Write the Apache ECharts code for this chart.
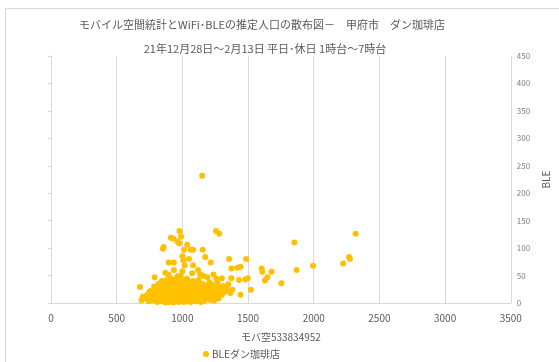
<!DOCTYPE html>
<html><head><meta charset="utf-8">
<script src="https://cdn.jsdelivr.net/npm/echarts@6/dist/echarts.min.js"></script>
<style>html,body{margin:0;padding:0;background:#fff}#c{width:559px;height:362px}</style>
</head><body><div id="c"></div>
<script>
const titleText = 'モバイル空間統計とWiFi･BLEの推定人口の散布図－　甲府市　ダン珈琲店';
const subTitleText = '21年12月28日～2月13日 平日･休日 1時台～7時台';
const xAxisName = 'モバ空533834952';
const yAxisName = 'BLE';
const seriesName = 'BLEダン珈琲店';
const xTicks = [0, 500, 1000, 1500, 2000, 2500, 3000, 3500];
const yTicks = [0, 50, 100, 150, 200, 250, 300, 350, 400, 450];

// [モバ空, BLE] — outlying / scattered points
const spreadPoints = [
  [1151,232],[1256,131],[1281,126],[978,131],[990,121],[913,119],[933,117],
  [963,112],[975,109],[858,102],[851,99],[1037,106],[1013,97],[1062,97],[1082,97],
  [1155,97],[1000,85],[1174,84],[1007,78],[1050,80],[896,74],[935,74],[1216,74],
  [1017,69],[1082,69],[935,60],[1356,80],[1485,80],[1373,63],[1418,64],[1443,66],
  [1604,63],[1609,57],[1679,57],[1853,110],[1870,60],[1995,68],[2224,72],[2269,84],
  [2276,80],[2319,126],[1522,24],[1443,15],[1754,36],[1647,47],[1629,41],[1498,45],
  [1478,43],[1431,42],[1373,45],[1301,45],[1237,52],[1137,52],[1075,54],[1160,49],
  [789,47],[893,52],[963,49],[988,49],[677,29],[689,5],[751,21],[759,5]
];
// [モバ空, BLE] — dense cluster
const clusterPoints = [
  [720,8],[735,15],[745,3],[760,22],[770,12],[780,5],[785,30],[790,18],[800,8],[805,25],
  [810,2],[815,14],[820,35],[825,20],[830,6],[835,28],[840,11],[845,40],[850,3],[852,17],
  [858,24],[860,9],[865,33],[870,1],[872,14],[878,20],[880,42],[885,6],[888,27],[890,12],
  [895,36],[898,2],[900,18],[903,30],[906,8],[910,22],[912,45],[915,4],[918,15],[920,26],
  [924,10],[926,38],[930,1],[932,19],[935,31],[938,7],[940,24],[943,13],[945,43],[948,3],
  [950,28],[952,16],[955,9],[958,35],[960,21],[962,5],[965,12],[968,40],[970,26],[972,2],
  [975,17],[978,31],[980,8],[982,22],[985,14],[988,37],[990,4],[992,27],[995,11],[998,19],
  [1000,33],[1003,6],[1005,24],[1008,15],[1010,41],[1012,2],[1015,29],[1018,10],[1020,20],[1023,35],
  [1025,7],[1028,16],[1030,26],[1033,3],[1035,44],[1038,13],[1040,22],[1043,31],[1045,8],[1048,18],
  [1050,38],[1053,5],[1055,25],[1058,12],[1060,30],[1063,2],[1065,20],[1068,9],[1070,34],[1073,15],
  [1075,26],[1078,4],[1080,40],[1083,11],[1085,21],[1088,29],[1090,6],[1093,17],[1095,36],[1098,24],
  [1100,10],[1103,3],[1105,28],[1108,14],[1110,19],[1113,32],[1115,8],[1118,23],[1120,12],[1123,42],
  [1125,5],[1128,27],[1130,16],[1133,21],[1135,9],[1138,30],[1140,2],[1143,18],[1145,25],[1148,12],
  [1150,35],[1155,7],[1158,22],[1160,15],[1165,28],[1168,4],[1170,19],[1175,32],[1178,11],[1180,24],
  [1185,8],[1190,17],[1195,29],[1200,13],[1205,38],[1210,6],[1215,21],[1220,26],[1225,10],[1230,33],
  [1235,16],[1240,4],[1245,24],[1250,19],[1255,30],[1260,12],[1268,37],[1275,8],[1280,22],[1290,28],
  [1300,15],[1310,31],[1320,20],[1335,26],[1350,34],[1365,18],[1380,24],[700,12],[870,55],[1000,58],
  [1120,60],[1190,47],[1260,44]
];

const gray = '#595959';
const lineGray = '#d9d9d9';
const font = '"Noto Sans CJK JP", "Noto Sans", sans-serif';
const chart = echarts.init(document.getElementById('c'), null, {renderer: 'canvas'});
chart.setOption({
  animation: false,
  textStyle: {fontFamily: font},
  graphic: [{type: 'rect', shape: {x: 5.5, y: 8.5, width: 700, height: 500},
    style: {fill: 'none', stroke: lineGray, lineWidth: 1}, silent: true}],
  title: [
    {text: titleText, left: 257, textAlign: 'center', top: 14,
     textStyle: {fontSize: 11, fontWeight: 'normal', color: gray, fontFamily: font}},
    {text: subTitleText, left: 260, textAlign: 'center', top: 38,
     textStyle: {fontSize: 11, fontWeight: 'normal', color: gray, fontFamily: font}}
  ],
  grid: {left: 51, right: 38, top: 56, bottom: 59, containLabel: false},
  legend: {
    data: [seriesName], left: 198, top: 344, icon: 'circle', itemWidth: 6, itemHeight: 6,
    itemGap: 4, textStyle: {fontSize: 10, color: gray, fontFamily: font, padding: [0,0,0,-2]}
  },
  xAxis: {
    type: 'value', min: xTicks[0], max: xTicks[xTicks.length-1], interval: 500,
    name: xAxisName, nameLocation: 'middle', nameGap: 29,
    nameTextStyle: {fontSize: 10, color: gray, fontFamily: font},
    axisLine: {show: true, lineStyle: {color: lineGray}},
    axisTick: {show: false},
    axisLabel: {fontSize: 10, color: gray, margin: 10, fontFamily: font,
      formatter: v => String(v)},
    splitLine: {show: true, lineStyle: {color: lineGray}}
  },
  yAxis: {
    type: 'value', position: 'right', min: yTicks[0], max: yTicks[yTicks.length-1], interval: 50,
    name: yAxisName, nameLocation: 'middle', nameGap: 26, nameRotate: 90,
    nameTextStyle: {fontSize: 10, color: gray, fontFamily: font},
    axisLine: {show: true, lineStyle: {color: lineGray}},
    axisTick: {show: true, inside: true, length: 3, lineStyle: {color: lineGray}},
    axisLabel: {fontSize: 8, color: '#7f7f7f', margin: 6, fontFamily: font,
      formatter: v => String(v)},
    splitLine: {show: false}
  },
  series: [{
    name: seriesName, type: 'scatter', symbol: 'circle', symbolSize: 6,
    itemStyle: {color: '#FFC000', opacity: 1},
    data: spreadPoints.concat(clusterPoints)
  }]
});
</script></body></html>
